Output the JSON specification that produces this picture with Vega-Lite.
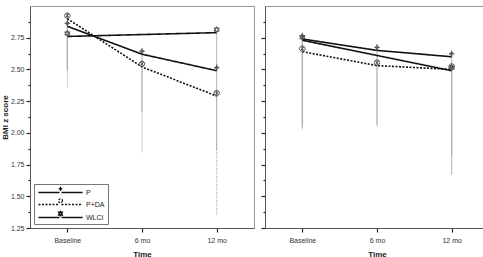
{
  "$schema": "https://vega.github.io/schema/vega-lite/v6.json",
  "padding": {"left": 0, "top": 5, "right": 0, "bottom": 0},
  "background": "white",
  "data": {
    "values": [
      {"panel": 1, "series": "P", "time": "Baseline", "mean": 2.84, "lower": 2.49},
      {"panel": 1, "series": "P", "time": "6 mo", "mean": 2.62, "lower": 2.16},
      {"panel": 1, "series": "P", "time": "12 mo", "mean": 2.49, "lower": 1.86},
      {"panel": 1, "series": "P+DA", "time": "Baseline", "mean": 2.90, "lower": 2.36},
      {"panel": 1, "series": "P+DA", "time": "6 mo", "mean": 2.52, "lower": 1.84},
      {"panel": 1, "series": "P+DA", "time": "12 mo", "mean": 2.29, "lower": 1.35},
      {"panel": 1, "series": "WLCI", "time": "Baseline", "mean": 2.76, "lower": 2.50},
      {"panel": 1, "series": "WLCI", "time": "12 mo", "mean": 2.79, "lower": 2.50},
      {"panel": 2, "series": "P", "time": "Baseline", "mean": 2.74, "lower": 2.06},
      {"panel": 2, "series": "P", "time": "6 mo", "mean": 2.65, "lower": 2.06},
      {"panel": 2, "series": "P", "time": "12 mo", "mean": 2.60, "lower": 1.67},
      {"panel": 2, "series": "P+DA", "time": "Baseline", "mean": 2.64, "lower": 2.02},
      {"panel": 2, "series": "P+DA", "time": "6 mo", "mean": 2.53, "lower": 2.05},
      {"panel": 2, "series": "P+DA", "time": "12 mo", "mean": 2.50, "lower": 1.81},
      {"panel": 2, "series": "WLCI", "time": "Baseline", "mean": 2.73, "lower": 2.04},
      {"panel": 2, "series": "WLCI", "time": "12 mo", "mean": 2.49, "lower": 1.82}
    ]
  },
  "resolve": {"legend": {"strokeDash": "independent"}},
  "spacing": 4,
  "hconcat": [
    {
      "width": 224,
      "height": 222,
      "transform": [{"filter": "datum.panel == 1"}],
      "encoding": {
        "x": {
          "field": "time", "type": "ordinal", "sort": ["Baseline", "6 mo", "12 mo"],
          "scale": {"type": "point", "padding": 0.5},
          "axis": {"title": "Time", "labelAngle": 0, "tickSize": 4, "labelPadding": 4, "titlePadding": 7}
        },
        "y": {
          "field": "mean", "type": "quantitative",
          "scale": {"domain": [1.25, 3.0], "nice": false, "zero": false},
          "axis": {
            "title": "BMI z score",
            "values": [1.25, 1.375, 1.5, 1.625, 1.75, 1.875, 2.0, 2.125, 2.25, 2.375, 2.5, 2.625, 2.75, 2.875],
            "labelExpr": "round(datum.value * 8) % 2 == 0 ? format(datum.value, '.2f') : ''",
            "tickSize": {"condition": {"test": "round(datum.value * 8) % 2 == 0", "value": 4}, "value": 2},
            "labelPadding": 2,
            "titlePadding": 1
          }
        }
      },
      "layer": [
        {
          "mark": {"type": "rule", "color": "#a8a8a8", "strokeWidth": 1},
          "encoding": {
            "y2": {"field": "lower"},
            "strokeDash": {"condition": {"test": "datum.series == 'P+DA'", "value": [1, 1]}, "value": [1, 0]}
          }
        },
        {
          "mark": {"type": "line", "color": "#111", "strokeWidth": 1.6},
          "encoding": {
            "detail": {"field": "series"},
            "strokeDash": {
              "field": "series", "type": "nominal",
              "scale": {"domain": ["P", "P+DA", "WLCI"], "range": [[1, 0], [2, 1.5], [1, 0]]},
              "legend": {
                "title": null, "orient": "bottom-left", "offset": 4,
                "fillColor": "white", "strokeColor": "#777", "padding": 3,
                "symbolSize": 81, "symbolStrokeWidth": 1.3, "symbolStrokeColor": "#111",
                "symbolOffset": 18, "labelOffset": 20, "rowPadding": 0,
                "labelFontSize": 7, "labelFont": "Liberation Sans", "labelColor": "#222",
                "encode": {
                  "symbols": {
                    "update": {
                      "fill": {"value": "white"},
                      "stroke": {"value": "#111"},
                      "shape": {"signal": "datum.value == 'P' ? 'M-4.9,0H-0.22M0.22,0H4.9M-0.39,-0.83H0.39M0,-1.28V-0.33' : datum.value == 'P+DA' ? 'M-4.9,0H-0.22M0.22,0H4.9M0.44,-0.83A0.44,0.44 0 1 1 -0.44,-0.83A0.44,0.44 0 1 1 0.44,-0.83Z' : 'M-4.9,0H-0.22M0.22,0H4.9M0,-1.33L0.42,-0.56H-0.42ZM0,-0.39L0.42,-1.17H-0.42Z'"}
                    }
                  }
                }
              }
            }
          }
        },
        {
          "mark": {"type": "point", "fill": "white", "fillOpacity": 1, "stroke": "#444", "strokeWidth": 0.9, "opacity": 1, "size": 30, "yOffset": -3},
          "encoding": {
            "shape": {
              "field": "series", "type": "nominal", "legend": null,
              "scale": {
                "domain": ["P", "P+DA", "WLCI"],
                "range": [
                  "M0,-1.2V1.2M-1,0H1M0.55,0A0.55,0.55 0 1 1 -0.55,0A0.55,0.55 0 1 1 0.55,0Z",
                  "M1,0A1,1 0 1 1 -1,0A1,1 0 1 1 1,0ZM-0.7,-0.7L0.7,0.7M0.7,-0.7L-0.7,0.7M0,-1V1",
                  "M0,-1.1L0.95,0.55H-0.95ZM0,1.1L0.95,-0.55H-0.95Z"
                ]
              }
            }
          }
        }
      ]
    },
    {
      "width": 224,
      "height": 222,
      "transform": [{"filter": "datum.panel == 2"}],
      "encoding": {
        "x": {
          "field": "time", "type": "ordinal", "sort": ["Baseline", "6 mo", "12 mo"],
          "scale": {"type": "point", "padding": 0.5},
          "axis": {"title": "Time", "labelAngle": 0, "tickSize": 4, "labelPadding": 4, "titlePadding": 7}
        },
        "y": {
          "field": "mean", "type": "quantitative",
          "scale": {"domain": [1.25, 3.0], "nice": false, "zero": false},
          "axis": {
            "title": null,
            "labels": false,
            "values": [1.25, 1.375, 1.5, 1.625, 1.75, 1.875, 2.0, 2.125, 2.25, 2.375, 2.5, 2.625, 2.75, 2.875],
            "tickSize": {"condition": {"test": "round(datum.value * 8) % 2 == 0", "value": 4}, "value": 2}
          }
        }
      },
      "layer": [
        {
          "mark": {"type": "rule", "color": "#a8a8a8", "strokeWidth": 1},
          "encoding": {
            "y2": {"field": "lower"},
            "strokeDash": {"condition": {"test": "datum.series == 'P+DA'", "value": [1, 1]}, "value": [1, 0]}
          }
        },
        {
          "mark": {"type": "line", "color": "#111", "strokeWidth": 1.6},
          "encoding": {
            "detail": {"field": "series"},
            "strokeDash": {
              "field": "series", "type": "nominal", "legend": null,
              "scale": {"domain": ["P", "P+DA", "WLCI"], "range": [[1, 0], [2, 1.5], [1, 0]]}
            }
          }
        },
        {
          "mark": {"type": "point", "fill": "white", "fillOpacity": 1, "stroke": "#444", "strokeWidth": 0.9, "opacity": 1, "size": 30, "yOffset": -3},
          "encoding": {
            "shape": {
              "field": "series", "type": "nominal", "legend": null,
              "scale": {
                "domain": ["P", "P+DA", "WLCI"],
                "range": [
                  "M0,-1.2V1.2M-1,0H1M0.55,0A0.55,0.55 0 1 1 -0.55,0A0.55,0.55 0 1 1 0.55,0Z",
                  "M1,0A1,1 0 1 1 -1,0A1,1 0 1 1 1,0ZM-0.7,-0.7L0.7,0.7M0.7,-0.7L-0.7,0.7M0,-1V1",
                  "M0,-1.1L0.95,0.55H-0.95ZM0,1.1L0.95,-0.55H-0.95Z"
                ]
              }
            }
          }
        }
      ]
    }
  ],
  "config": {
    "view": {"stroke": "#999", "strokeWidth": 1},
    "axis": {
      "grid": false,
      "labelFont": "Liberation Sans", "labelFontSize": 7, "labelColor": "#333",
      "titleFont": "Liberation Sans", "titleFontSize": 8, "titleFontWeight": "bold", "titleColor": "#222",
      "tickColor": "#222", "tickWidth": 1.2, "domainColor": "#555", "domainWidth": 1
    }
  }
}
